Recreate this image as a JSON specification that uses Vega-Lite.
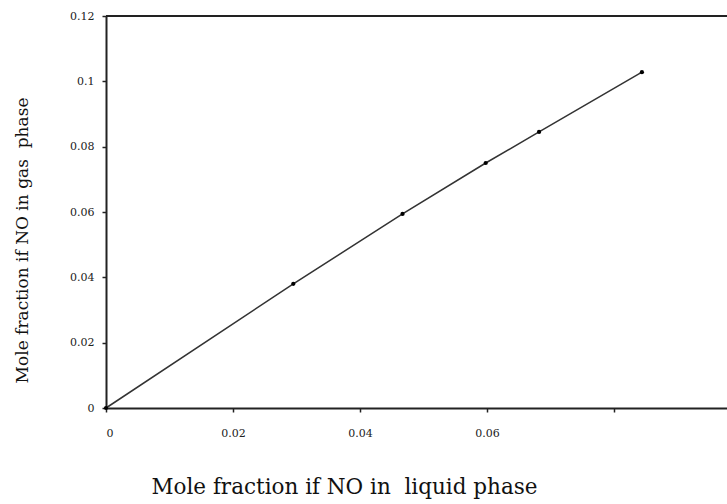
{
  "$schema": "https://vega.github.io/schema/vega-lite/v6.json",
  "width": 621,
  "height": 392,
  "autosize": {"type": "none"},
  "padding": {"left": 106, "top": 16, "right": 0, "bottom": 96},
  "background": "white",
  "config": {
    "view": {"stroke": null},
    "font": "DejaVu Serif",
    "axis": {"grid": false}
  },
  "data": {"values": [
    {"x": 0, "y": 0},
    {"x": 0.0295, "y": 0.038},
    {"x": 0.0467, "y": 0.0594},
    {"x": 0.0598, "y": 0.075},
    {"x": 0.0682, "y": 0.0845},
    {"x": 0.0844, "y": 0.1028}
  ]},
  "layer": [
    {
      "mark": {"type": "rule", "color": "#222", "strokeWidth": 2},
      "encoding": {"y": {"datum": 0.12, "type": "quantitative"}}
    },
    {
      "mark": {"type": "line", "color": "#333", "strokeWidth": 1.5},
      "encoding": {
        "x": {
          "field": "x", "type": "quantitative",
          "scale": {"domain": [0, 0.0978], "nice": false, "zero": false},
          "axis": {
            "values": [0, 0.02, 0.04, 0.06, 0.08],
            "format": "~g",
            "labelExpr": "datum.value > 0.07 ? '' : datum.label",
            "domainColor": "#222", "domainWidth": 2,
            "tickColor": "#222", "tickSize": 4, "tickWidth": 1.5,
            "labelFont": "DejaVu Serif", "labelFontSize": 11, "labelColor": "#222",
            "labelPadding": 15,
            "title": "Mole fraction if NO in\u00a0 liquid phase",
            "titleFont": "DejaVu Serif", "titleFontSize": 21.5, "titleFontWeight": "normal", "titleColor": "#111",
            "titleX": 238, "titleY": 79, "titleAlign": "center", "titleBaseline": "middle"
          }
        },
        "y": {
          "field": "y", "type": "quantitative",
          "scale": {"domain": [0, 0.12], "nice": false, "zero": false},
          "axis": {
            "values": [0, 0.02, 0.04, 0.06, 0.08, 0.1, 0.12],
            "format": "~g",
            "domainColor": "#222", "domainWidth": 2,
            "tickColor": "#222", "tickSize": 4, "tickWidth": 1.5,
            "labelFont": "DejaVu Serif", "labelFontSize": 11, "labelColor": "#222",
            "labelPadding": 8,
            "title": "Mole fraction if NO in gas\u00a0 phase",
            "titleFont": "DejaVu Serif", "titleFontSize": 17, "titleFontWeight": "normal", "titleColor": "#111",
            "titleX": -84, "titleY": 224, "titleAngle": -90, "titleAlign": "center", "titleBaseline": "middle"
          }
        }
      }
    },
    {
      "mark": {"type": "point", "filled": true, "color": "#000", "size": 18, "opacity": 1},
      "encoding": {
        "x": {"field": "x", "type": "quantitative"},
        "y": {"field": "y", "type": "quantitative"}
      }
    }
  ]
}
